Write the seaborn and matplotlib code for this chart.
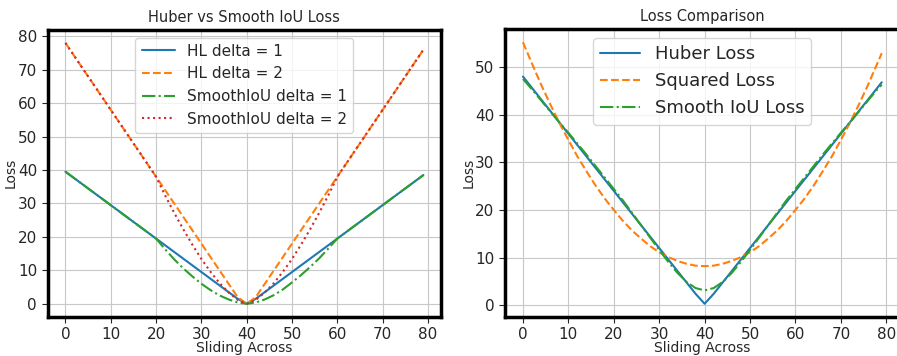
import numpy as np
import pandas as pd
import matplotlib
matplotlib.use('Agg')
import matplotlib.pyplot as plt
import seaborn as sns

# left panel: huber vs smooth iou for two deltas
x_left = [0, 10, 20, 22, 24, 26, 28, 30, 32, 34, 36, 38, 40,
          42, 44, 46, 48, 50, 52, 54, 56, 58, 60, 70, 79]
hl_delta1 = [39.5, 29.5, 19.5, 17.5, 15.5, 13.5, 11.5, 9.5, 7.5, 5.5, 3.5, 1.5, 0.0,
             1.5, 3.5, 5.5, 7.5, 9.5, 11.5, 13.5, 15.5, 17.5, 19.5, 29.5, 38.5]
hl_delta2 = [78, 58, 38, 34, 30, 26, 22, 18, 14, 10, 6, 2, 0,
             2, 6, 10, 14, 18, 22, 26, 30, 34, 38, 58, 76]
siou_delta1 = [39.5, 29.5, 19.5, 16.3, 13.3, 10.6, 8.2, 6.0, 4.1, 2.5, 1.3, 0.4, 0.0,
               0.4, 1.3, 2.6, 4.3, 6.4, 8.6, 11.0, 13.6, 16.5, 19.5, 29.5, 38.5]
siou_delta2 = [78, 58, 38, 32.4, 27.2, 22.3, 17.7, 13.4, 9.6, 6.2, 3.4, 1.2, 0.0,
               1.2, 3.4, 6.2, 9.6, 13.4, 17.7, 22.3, 27.2, 32.4, 38, 58, 76]

# right panel: loss comparison
x_right = [0, 2, 4, 6, 8, 10, 12, 14, 16, 18, 20, 22, 24, 26, 28, 30, 32, 34, 36, 38, 40,
           42, 44, 46, 48, 50, 52, 54, 56, 58, 60, 62, 64, 66, 68, 70, 72, 74, 76, 78, 79]
huber_loss = [48.0, 45.6, 43.2, 40.8, 38.4, 36.0, 33.6, 31.2, 28.8, 26.4, 24.0, 21.6, 19.2,
              16.8, 14.4, 12.0, 9.6, 7.2, 4.8, 2.4, 0.3,
              2.4, 4.8, 7.2, 9.6, 12.0, 14.4, 16.8, 19.2, 21.6, 24.0, 26.4, 28.8, 31.2,
              33.6, 36.0, 38.4, 40.8, 43.2, 45.6, 46.8]
squared_loss = [55.2, 50.7, 46.3, 42.2, 38.3, 34.7, 31.2, 28.1, 25.1, 22.4, 20.0, 17.7, 15.7,
                14.0, 12.4, 11.1, 10.1, 9.3, 8.7, 8.3, 8.2,
                8.3, 8.7, 9.3, 10.1, 11.1, 12.4, 14.0, 15.7, 17.7, 20.0, 22.4, 25.1, 28.1,
                31.2, 34.7, 38.3, 42.2, 46.3, 50.7, 52.9]
smooth_iou_loss = [47.5, 45.3, 43.0, 40.7, 38.4, 36.2, 33.9, 31.6, 29.2, 26.8, 24.4, 22.0, 19.4,
                   16.8, 14.2, 11.6, 9.1, 6.8, 4.9, 3.6, 3.1,
                   3.6, 4.9, 6.8, 9.1, 11.6, 14.2, 16.8, 19.4, 22.0, 24.4, 26.8, 29.2, 31.6,
                   33.9, 36.2, 38.4, 40.7, 43.0, 45.3, 46.3]

sns.set_style('whitegrid', {'axes.edgecolor': 'black', 'grid.color': '#c8c8c8'})
plt.rcParams['font.family'] = ['DejaVu Sans']
plt.rcParams['xtick.major.size'] = 4
plt.rcParams['ytick.major.size'] = 4
plt.rcParams['xtick.bottom'] = True
plt.rcParams['ytick.left'] = True

fig = plt.figure(figsize=(8.97, 3.56), dpi=100)
ax1 = fig.add_axes([0.053, 0.11, 0.439, 0.806])
ax2 = fig.add_axes([0.563, 0.11, 0.44, 0.808])

sns.lineplot(x=x_left, y=hl_delta1, ax=ax1, color='#1f77b4', linestyle='-', label='HL delta = 1')
sns.lineplot(x=x_left, y=hl_delta2, ax=ax1, color='#ff7f0e', linestyle='--', label='HL delta = 2')
sns.lineplot(x=x_left, y=siou_delta1, ax=ax1, color='#2ca02c', linestyle='-.', label='SmoothIoU delta = 1')
sns.lineplot(x=x_left, y=siou_delta2, ax=ax1, color='#d62728', linestyle=':', label='SmoothIoU delta = 2')
ax1.set_title('Huber vs Smooth IoU Loss', fontsize=10.5)
ax1.set_xlabel('Sliding Across', fontsize=10, labelpad=-1)
ax1.set_ylabel('Loss', fontsize=10, labelpad=0)
ax1.set_xticks(range(0, 81, 10))
ax1.set_yticks(range(0, 81, 10))
ax1.tick_params(labelsize=11)
ax1.legend(loc='upper center', fontsize=11, handlelength=2.2)

sns.lineplot(x=x_right, y=huber_loss, ax=ax2, color='#1f77b4', linestyle='-', label='Huber Loss')
sns.lineplot(x=x_right, y=squared_loss, ax=ax2, color='#ff7f0e', linestyle='--', label='Squared Loss')
sns.lineplot(x=x_right, y=smooth_iou_loss, ax=ax2, color='#2ca02c', linestyle='-.', label='Smooth IoU Loss')
ax2.set_title('Loss Comparison', fontsize=10.5)
ax2.set_xlabel('Sliding Across', fontsize=10, labelpad=-1)
ax2.set_ylabel('Loss', fontsize=10, labelpad=0)
ax2.set_xticks(range(0, 81, 10))
ax2.set_yticks(range(0, 51, 10))
ax2.tick_params(labelsize=11)
ax2.legend(loc='upper center', fontsize=13, handlelength=2.2)

for ax in (ax1, ax2):
    for s in ax.spines.values():
        s.set_linewidth(2.5)
        s.set_color('black')

fig.savefig('out.png', dpi=100)
